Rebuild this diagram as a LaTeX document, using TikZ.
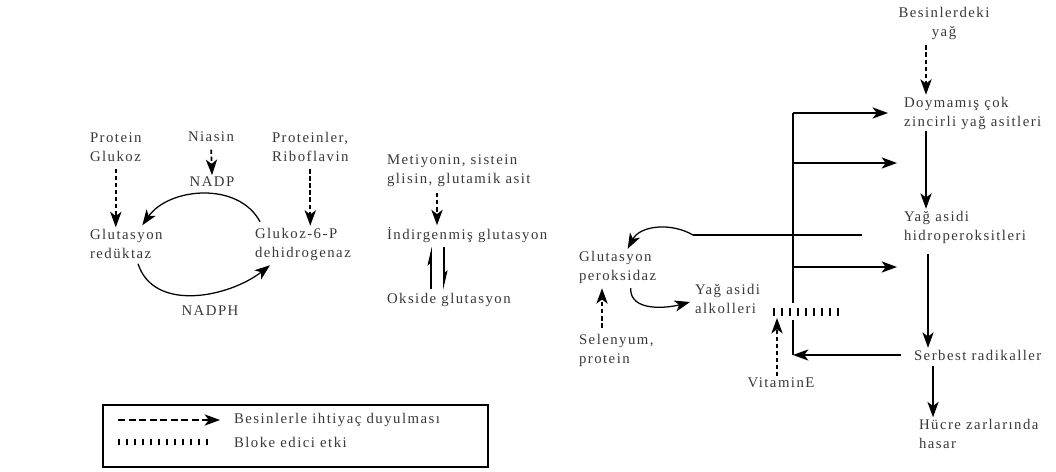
\documentclass[tikz,border=0pt]{standalone}
\usepackage{fontspec}
\setmainfont{Liberation Serif}[LetterSpace=10]
\usetikzlibrary{arrows.meta,calc}

\begin{document}
\begin{tikzpicture}[x=0.025cm,y=0.025cm, line width=0.9pt,
	txt/.style={
		inner sep=1pt,
		align=left,
		anchor=west,
		text=black!78,
		font=\fontsize{10.5}{13.5}\selectfont
	},
	arr/.style={-{Stealth[length=11pt,width=8pt,inset=3pt]}},
	need/.style={arr, dash pattern=on 3pt off 2pt, line width=1.3pt},
	harp/.style={line width=1.1pt, -{Stealth[harpoon,length=11pt,width=5pt,inset=2pt]}},
	blok/.style={line width=5pt, dash pattern=on 1.5pt off 4.2pt}
	]
	\useasboundingbox (0,0) rectangle (1056,-472);
	
	%NADP dongusu
	\node[txt] (pg) at (88,-147) {Protein\\Glukoz};
	\node[txt,anchor=center] (nia) at (211,-137) {Niasin};
	\node[txt] (prr) at (270,-147) {Proteinler,\\Riboflavin};
	\node[txt,anchor=center] (nadp) at (212,-182) {NADP};
	\node[txt] (gr) at (88,-244) {Glutasyon\\redüktaz};
	\node[txt] (g6p) at (253,-244) {Glukoz-6-P\\dehidrogenaz};
	\node[txt,anchor=center] (nadph) at (210,-311) {NADPH};
	
	\draw[need, shorten <=4pt] (pg.south) -- (pg.south |- gr.north);
	\draw[need, shorten <=4pt] (prr.south) -- (prr.south |- g6p.north);
	\draw[need, shorten <=4pt] (nia.south) -- (nadp.north);
	\draw[arr] ($(g6p.north west)+(7,4)$) to[out=118,in=55] ($(gr.north)+(16,2)$);
	\draw[arr] ($(gr.south west)+(50,-3)$) to[out=-72,in=218] ($(g6p.south west)+(17,-3)$);
	
	%Glutasyon
	\node[txt] (met) at (385,-171) {Metiyonin, sistein\\glisin, glutamik asit};
	\node[txt] (ind) at (385,-235) {İndirgenmiş glutasyon};
	\node[txt] (oks) at (385,-300) {Okside glutasyon};
	
	\draw[need, shorten <=3pt] ($(met.south west)+(52,0)$) -- ($(ind.north west)+(52,0)$);
	\draw[harp] ($(oks.north west)+(46,2)$) -- ($(ind.south west)+(46,-2)$);
	\draw[harp] ($(ind.south west)+(59,-2)$) -- ($(oks.north west)+(59,2)$);
	
	%Lipid peroksidasyonu
	\node[txt,anchor=center,align=center] (bes) at (944,-23) {Besinlerdeki\\yağ};
	\node[txt] (doy) at (902,-113) {Doymamış çok\\zincirli yağ asitleri};
	\node[txt] (hid) at (902,-227) {Yağ asidi\\hidroperoksitleri};
	\node[txt] (ser) at (912,-355) {Serbest radikaller};
	\node[txt] (huc) at (917,-434) {Hücre zarlarında\\hasar};
	\node[txt] (gpx) at (577,-267) {Glutasyon\\peroksidaz};
	\node[txt] (sel) at (577,-350) {Selenyum,\\protein};
	\node[txt] (alk) at (693,-299) {Yağ asidi\\alkolleri};
	\node[txt,anchor=center] (vit) at (781,-383) {VitaminE};
	
	\coordinate (ax) at (926,0);
	\coordinate (vt) at (793,-113);
	\coordinate (v2) at (793,-163);
	\coordinate (v3) at (793,-267);
	\coordinate (g1) at (793,-303);
	\coordinate (g2) at (793,-320);
	\coordinate (vb) at (793,-355);
	\coordinate (e2) at (897,-163);
	\coordinate (e3) at (897,-267);
	\coordinate (h1) at (693,-235);
	\coordinate (h2) at (862,-235);
	\coordinate (b1) at (773,-312);
	\coordinate (b2) at (839,-312);
	\coordinate (vx) at (777,-318);
	
	\draw[need, shorten <=3pt] (bes.south -| ax) -- (doy.north -| ax);
	\draw[arr] (doy.south -| ax) -- (hid.north -| ax);
	\draw[arr, shorten <=6pt] ($(hid.south west)+(26,0)$) -- ($(ser.north west)+(16,0)$);
	\draw[arr, shorten <=3pt] ($(ser.south west)+(21,0)$) -- ($(huc.north west)+(16,0)$);
	
	\draw (vt) -- (g1);
	\draw (g2) -- (vb);
	\draw[arr, shorten >=10pt] (vt) -- (doy.west);
	\draw[arr] (v2) -- (e2);
	\draw[arr] (v3) -- (e3);
	\draw[arr, shorten <=8pt] (ser.west) -- (vb);
	\draw (h1) -- (h2);
	\draw[arr] (h1) to[out=150,in=62] ($(gpx.north)+(10,0)$);
	\draw[arr] ($(gpx.south)+(13,-3)$) to[out=-92,in=195] ($(alk.west)+(-3,-3)$);
	\draw[need, shorten <=3pt] ($(sel.north west)+(25,0)$) -- ($(gpx.south west)+(25,-3)$);
	\draw[need] (vit.north -| vx) -- (vx);
	\draw[blok] (b1) -- (b2);
	
	%Aciklama
	\draw (103,-405) rectangle (488,-467);
	\node[txt] (l1) at (232,-420) {Besinlerle ihtiyaç duyulması};
	\node[txt] (l2) at (232,-442) {Bloke edici etki};
	\coordinate (la1) at (118,-420);
	\coordinate (la2) at (220,-420);
	\coordinate (lb1) at (118,-442);
	\coordinate (lb2) at (210,-442);
	\draw[arr, dash pattern=on 5pt off 2.5pt, line width=1.3pt] (la1) -- (la2);
	\draw[blok, line width=4pt] (lb1) -- (lb2);
\end{tikzpicture}
\end{document}
